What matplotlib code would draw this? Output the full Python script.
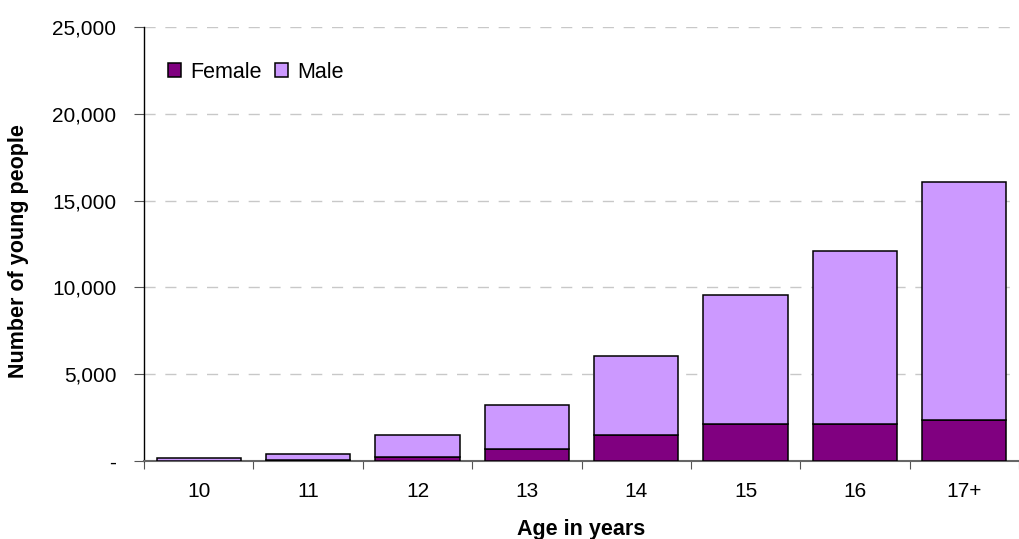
import matplotlib
matplotlib.use("Agg")
import matplotlib.pyplot as plt
import numpy as np
from matplotlib.ticker import FuncFormatter

plt.rcParams['font.family'] = ['Liberation Sans', 'DejaVu Sans']

ages = ["10", "11", "12", "13", "14", "15", "16", "17+"]
female = [10, 60, 230, 680, 1500, 2130, 2130, 2390]
male = [150, 365, 1270, 2560, 4550, 7430, 9970, 13690]

female_color = "#800080"
male_color = "#CC99FF"

fig = plt.figure(figsize=(10.19, 5.39), dpi=100)
ax = fig.add_axes([144 / 1019, 1 - 461 / 539, 1 - 144 / 1019, (461 - 27) / 539])

x = np.arange(len(ages))
ax.bar(x, female, width=0.77, color=female_color, edgecolor="black", linewidth=1.1,
       label="Female", zorder=3)
ax.bar(x, male, width=0.77, bottom=female, color=male_color, edgecolor="black",
       linewidth=1.1, label="Male", zorder=3)

ax.set_xlim(-0.5, 7.5 - 13 / 111)
ax.set_ylim(0, 25000)

# category boundary ticks, labels at centres
ax.set_xticks(np.arange(-0.5, 8, 1))
ax.set_xticklabels([])
ax.set_xticks(x, minor=True)
ax.set_xticklabels(ages, minor=True)
ax.tick_params(axis="x", which="major", length=6, color="#555555", direction="out")
ax.tick_params(axis="x", which="minor", length=0, pad=15, labelsize=15)

ax.set_yticks(np.arange(0, 25001, 5000))
ax.yaxis.set_major_formatter(FuncFormatter(lambda v, p: "-" if v == 0 else f"{int(v):,}"))
ax.tick_params(axis="y", length=7, color="#555555", pad=13, labelsize=15)

ax.yaxis.grid(True, color="#c8c8c8", linestyle=(0, (8, 7)), linewidth=1.0, zorder=0)
ax.set_axisbelow(True)

for s in ["top", "right"]:
    ax.spines[s].set_visible(False)
ax.spines["left"].set_color("black")
ax.spines["left"].set_linewidth(1.0)
ax.spines["bottom"].set_color("#666666")
ax.spines["bottom"].set_linewidth(1.5)

ax.set_xlabel("Age in years", fontsize=15.5, fontweight="bold", labelpad=13)
fig.text(0.018, 0.535, "Number of young people", rotation=90, fontsize=15.5,
         fontweight="bold", ha="center", va="center")

ax.legend(loc="center left", bbox_to_anchor=(0.005, 0.896), frameon=False, ncol=2,
          fontsize=15.5, handlelength=0.6, handleheight=0.6, handletextpad=0.45,
          columnspacing=0.6)

fig.savefig("out.png", dpi=100)
